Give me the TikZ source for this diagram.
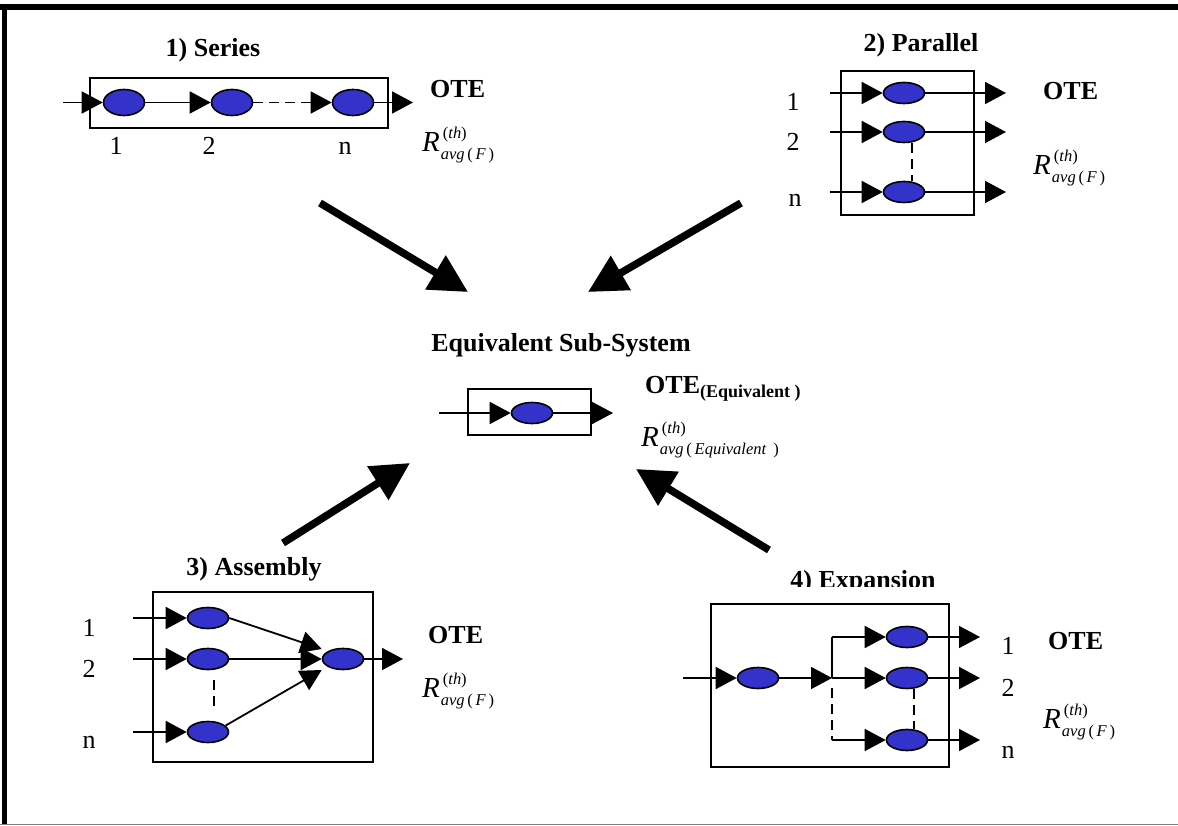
\documentclass[tikz,border=0pt]{standalone}
\usepackage{fontspec}
\setmainfont{Liberation Serif}
\usetikzlibrary{arrows.meta,shapes.geometric,calc}
\definecolor{blobblue}{RGB}{51,51,204}
\tikzset{
  blob/.style={ellipse,draw=black,line width=1.6pt,fill=blobblue,minimum width=41pt,minimum height=21pt,inner sep=0pt},
  framebox/.style={draw=black,line width=1.8pt,inner sep=0pt},
  conn/.style={line width=1.8pt,-{Triangle[length=21pt,width=22pt]}},
  plainline/.style={line width=1.8pt},
  dashline/.style={line width=1.8pt,dash pattern=on 10pt off 6pt},
  bigarrow/.style={line width=7.5pt,-{Triangle[length=38pt,width=38pt]}},
  titletext/.style={font=\fontsize{26}{26}\selectfont\bfseries,inner sep=0pt,anchor=base},
  numtext/.style={font=\fontsize{26}{26}\selectfont,inner sep=0pt,anchor=base},
  otetext/.style={font=\fontsize{26}{26}\selectfont\bfseries,inner sep=0pt,anchor=base west},
  rtext/.style={inner sep=0pt,anchor=base west},
}
\newcommand\Rtxt[1]{{\fontsize{29}{29}\selectfont\itshape R}\kern1pt\rlap{\raisebox{13pt}{\fontsize{16.5}{16.5}\selectfont\kern2pt(\textit{th})}}\raisebox{-8pt}{\fontsize{16.5}{16.5}\selectfont\textit{avg}\,(\,\textit{#1}\,)}}
\begin{document}
\begin{tikzpicture}[x=1pt,y=-1pt]
\useasboundingbox (0,0) rectangle (1178,826);
% outer frame
\fill[black] (0,4) rectangle (1178,10);
\fill[black] (2,4) rectangle (7,824);
\draw[gray,line width=1pt] (0,824) -- (1178,824);

% ---------- 1) Series ----------
\node[titletext] (t1) at (213,57) {1) Series};
\node[framebox,minimum width=298pt,minimum height=50pt] (sbox) at (239,103) {};
\node[blob,minimum height=26pt] (s1) at (124,102.5) {};
\node[blob,minimum height=26pt] (s2) at (232,102.5) {};
\node[blob,minimum height=26pt] (sn) at (353,102.5) {};
\coordinate (sin) at (63,102.5);
\coordinate (sout) at (413,102.5);
\draw[conn] (sin) -- (s1);
\draw[conn] (s1) -- (s2);
\draw[dashline,-{Triangle[length=21pt,width=22pt]}] (s2) -- (sn);
\draw[conn] (sn) -- (sout);
\node[numtext] (sl1) at (116,155) {1};
\node[numtext] (sl2) at (209,155) {2};
\node[numtext] (sln) at (345,155) {n};
\node[otetext] (sote) at (430,98) {OTE};
\node[rtext] (sr) at (422,152) {\Rtxt{F}};

% ---------- 2) Parallel ----------
\node[titletext] (t2) at (921,52) {2) Parallel};
\node[framebox,minimum width=133pt,minimum height=144pt] (pbox) at (907.5,143) {};
\node[blob] (p1) at (904,93) {};
\node[blob] (p2) at (904,132) {};
\node[blob] (pn) at (904,192) {};
\coordinate (pin1) at (830,93);
\coordinate (pin2) at (830,132);
\coordinate (pinn) at (830,192);
\coordinate (pout1) at (1006,93);
\coordinate (pout2) at (1006,132);
\coordinate (poutn) at (1006,192);
\draw[conn] (pin1) -- (p1);
\draw[conn] (pin2) -- (p2);
\draw[conn] (pinn) -- (pn);
\draw[conn] (p1) -- (pout1);
\draw[conn] (p2) -- (pout2);
\draw[conn] (pn) -- (poutn);
\draw[dashline] ([xshift=8pt]p2.south) -- ([xshift=8pt]pn.north);
\node[numtext] (pl1) at (793,111) {1};
\node[numtext] (pl2) at (793,151) {2};
\node[numtext] (pln) at (795,207) {n};
\node[otetext] (pote) at (1043,100) {OTE};
\node[rtext] (pr) at (1033,175) {\Rtxt{F}};

% ---------- Equivalent ----------
\node[titletext] (t0) at (561,351) {Equivalent Sub-System};
\node[framebox,minimum width=123pt,minimum height=46pt] (qbox) at (529.5,412) {};
\node[blob] (q) at (532,413) {};
\coordinate (qin) at (439,413);
\coordinate (qout) at (613,413);
\draw[conn] (qin) -- (q);
\draw[conn] (q) -- (qout);
\node[otetext] (qote) at (645,393) {OTE\raisebox{-4pt}{\fontsize{18}{18}\selectfont (Equivalent )}};
\node[rtext] (qr) at (641,446) {\Rtxt{Equivalent }};

% ---------- 3) Assembly ----------
\node[titletext] (t3) at (254,575) {3) Assembly};
\node[framebox,minimum width=220pt,minimum height=170pt] (abox) at (263,677) {};
\node[blob] (a1) at (208,618) {};
\node[blob] (a2) at (208,659) {};
\node[blob] (an) at (208,732) {};
\node[blob] (ar) at (343,659) {};
\coordinate (ain1) at (133,618);
\coordinate (ain2) at (133,659);
\coordinate (ainn) at (133,732);
\coordinate (aout) at (403,659);
\draw[conn] (ain1) -- (a1);
\draw[conn] (ain2) -- (a2);
\draw[conn] (ainn) -- (an);
\draw[conn] (a1.east) -- ([yshift=10pt]ar.west);
\draw[conn] (a2) -- (ar);
\draw[conn] (an.20) -- ([yshift=-11pt]ar.west);
\draw[conn] (ar) -- (aout);
\draw[dashline] ($(a2.south)+(6,10)$) -- ($(an.north)+(6,-10)$);
\node[numtext] (al1) at (89,636) {1};
\node[numtext] (al2) at (89,677) {2};
\node[numtext] (aln) at (89,748) {n};
\node[otetext] (aote) at (428,643) {OTE};
\node[rtext] (arl) at (422,697) {\Rtxt{F}};

% ---------- 4) Expansion ----------
\begin{scope}
\clip (700,550) rectangle (1000,586);
\node[titletext] (t4) at (863,588) {4) Expansion};
\end{scope}
\node[framebox,minimum width=238pt,minimum height=163pt] (ebox) at (830,685.5) {};
\node[blob] (e0) at (758,678) {};
\node[blob] (e1) at (907,637) {};
\node[blob] (e2) at (907,678) {};
\node[blob] (en) at (907,740) {};
\coordinate (ein) at (683,678);
\coordinate (J) at (832,678);
\coordinate (Jt) at (832,637);
\coordinate (Jb) at (832,740);
\coordinate (eout1) at (980,637);
\coordinate (eout2) at (980,678);
\coordinate (eoutn) at (980,740);
\draw[conn] (ein) -- (e0);
\draw[conn] (e0) -- (J);
\draw[plainline] (J) -- (Jt);
\draw[dashline] ($(J)+(0,10)$) -- (Jb);
\draw[conn] (Jt) -- (e1);
\draw[conn] (J) -- (e2);
\draw[conn] (Jb) -- (en);
\draw[conn] (e1) -- (eout1);
\draw[conn] (e2) -- (eout2);
\draw[conn] (en) -- (eoutn);
\draw[dashline] ([xshift=7pt]e2.south) -- ([xshift=7pt]en.north);
\node[numtext] (el1) at (1008,654) {1};
\node[numtext] (el2) at (1008,696) {2};
\node[numtext] (eln) at (1008,758) {n};
\node[otetext] (eote) at (1048,649) {OTE};
\node[rtext] (erl) at (1043,728) {\Rtxt{F}};

% ---------- big arrows ----------
\coordinate (b1s) at (320,203);
\coordinate (b1e) at (468,292);
\coordinate (b2s) at (741,203);
\coordinate (b2e) at (588,292);
\coordinate (b3s) at (283,543);
\coordinate (b3e) at (410,463);
\coordinate (b4s) at (769,550);
\coordinate (b4e) at (636,469);
\draw[bigarrow] (b1s) -- (b1e);
\draw[bigarrow] (b2s) -- (b2e);
\draw[bigarrow] (b3s) -- (b3e);
\draw[bigarrow] (b4s) -- (b4e);
\end{tikzpicture}
\end{document}
